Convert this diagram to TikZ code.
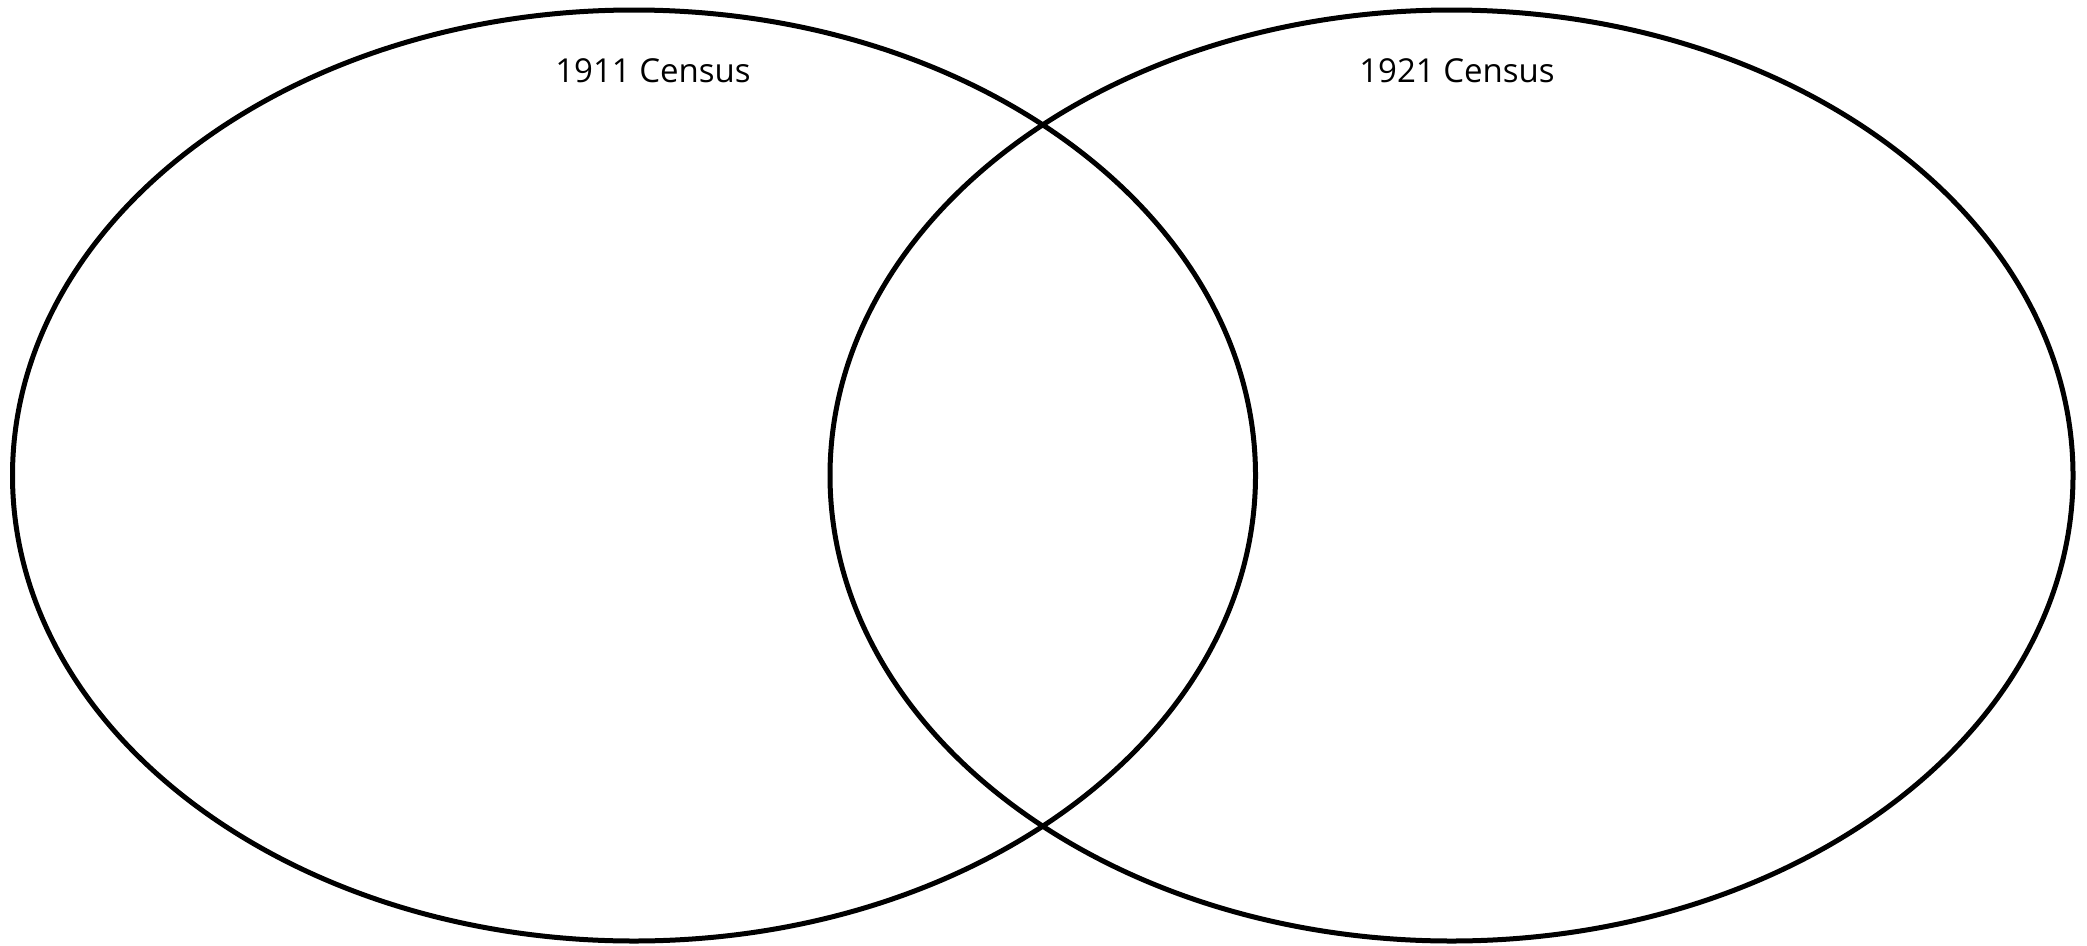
\documentclass[tikz,border=0pt]{standalone}
\usepackage{fontspec}
\setmainfont{Open Sans}
\begin{document}
\begin{tikzpicture}[x=1pt,y=-1pt,
  ring/.style={draw=black,line width=5pt},
  title/.style={font=\fontsize{33}{40}\selectfont,anchor=center,inner sep=0pt}]
\useasboundingbox (0,0) rectangle (2087,945);
\draw[ring] (634,475.5) ellipse [x radius=621.5, y radius=465.5];
\draw[ring] (1451.5,475.5) ellipse [x radius=621.5, y radius=465.5];
\node[title] (a) at (653,71) {1911 Census};
\node[title] (b) at (1457,71) {1921 Census};
\end{tikzpicture}
\end{document}
